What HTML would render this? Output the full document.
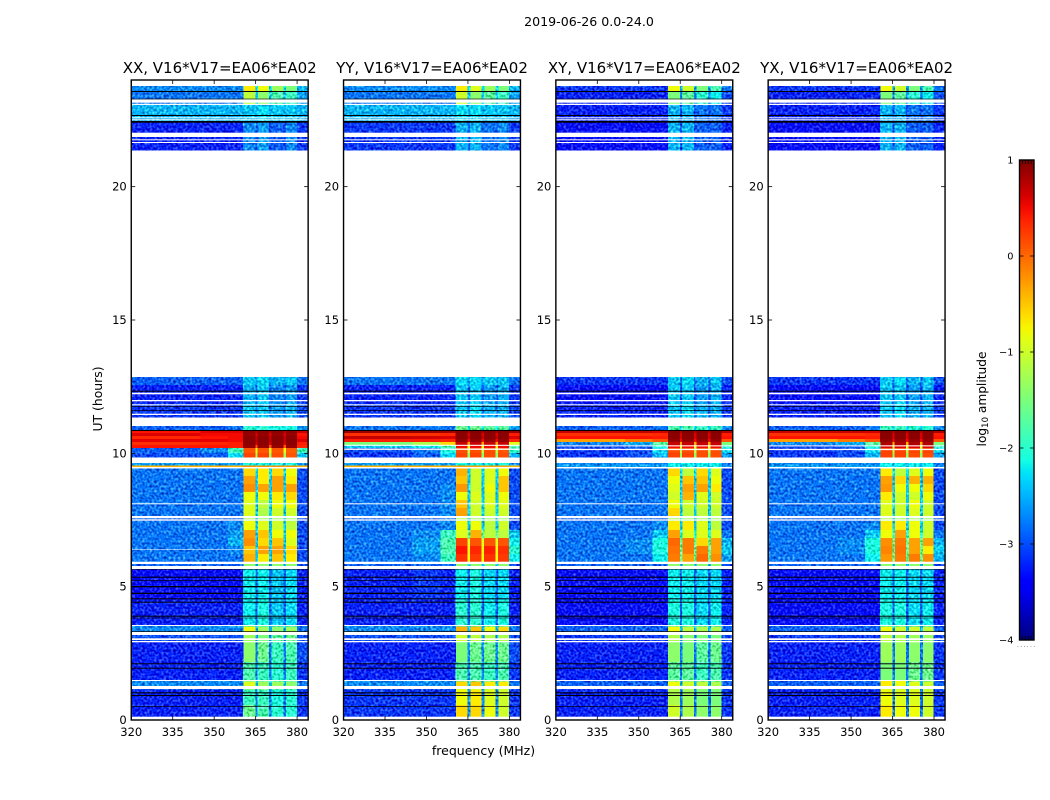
<!DOCTYPE html>
<html>
<head>
<meta charset="utf-8">
<title>2019-06-26 amplitude spectrograms</title>
<style>
html,body{margin:0;padding:0;background:#fff;width:1050px;height:800px;overflow:hidden}
svg{display:block}
text{font-family:"DejaVu Sans","Liberation Sans",sans-serif;fill:#000}
</style>
</head>
<body>
<svg id="chart" xmlns="http://www.w3.org/2000/svg" width="1050" height="800" viewBox="0 0 1050 800">
<defs>
<filter id="grain" x="0" y="0" width="100%" height="100%" color-interpolation-filters="sRGB">
<feTurbulence type="fractalNoise" baseFrequency="0.42" numOctaves="1" seed="7" result="n"/>
<feColorMatrix in="n" type="matrix" values="1 0 0 0 0 1 0 0 0 0 1 0 0 0 0 0 0 0 0 1" result="gray"/>
<feComposite in="SourceGraphic" in2="gray" operator="arithmetic" k1="0" k2="1" k3="1.1" k4="-0.55" result="mix"/>
<feComposite in="mix" in2="SourceAlpha" operator="in"/>
</filter>
<linearGradient id="jet-gradient" x1="0" y1="1" x2="0" y2="0"></linearGradient>
</defs>
<text x="589" y="26" text-anchor="middle" font-size="12.6">2019-06-26 0.0-24.0</text>
<text x="483.5" y="755" text-anchor="middle" font-size="12.5">frequency (MHz)</text>
<text transform="translate(102,399) rotate(-90)" text-anchor="middle" font-size="12.4">UT (hours)</text>
<text transform="translate(986,399) rotate(-90)" text-anchor="middle" font-size="12.2">log<tspan font-size="8.5" dy="2">10</tspan><tspan dy="-2"> amplitude</tspan></text>
</svg>
<script>
// Chart data: axis ticks
const panelTitles = ["XX, V16*V17=EA06*EA02", "YY, V16*V17=EA06*EA02", "XY, V16*V17=EA06*EA02", "YX, V16*V17=EA06*EA02"];
const freqTicks = [320, 335, 350, 365, 380];
const hourTicks = [0, 5, 10, 15, 20];
const colorTicks = [1, 0, -1, -2, -3, -4];
const colorTickLabels = ["1", "0", "\u22121", "\u22122", "\u22123", "\u22124"];

// Frequency bin edges (MHz): background, four receiver bands with notches, background
const freqEdges = [320, 345, 355, 360.5, 364.9, 365.7, 369.9, 370.8, 375, 375.9, 379.9, 384];

// UT hour bin edges, descending
const hourEdges = [24, 23.775, 23.55, 23.063, 22.425, 21.375, 12.863, 12.563, 11.888, 11.363, 11.025, 10.875, 10.763, 10.65, 10.538, 10.425, 10.313, 10.2, 10.013, 9.863, 9.638, 9.563, 9.488, 9.15, 8.85, 8.55, 8.25, 7.95, 7.65, 7.463, 7.125, 6.825, 6.525, 6.225, 5.925, 5.663, 4.5, 3.525, 3.3, 2.925, 2.175, 1.463, 1.275, 1.125, 0.563, 0];

// Flagged (blank) and zero-amplitude time intervals, [from, to] in hours
const blankIntervals = [[23.276,23.149],[23.111,23.063],[22.601,22.564],[22.526,22.489],[22.024,21.863],[21.776,21.739],[21.675,21.638],[12.274,12.214],[12.0,11.951],[11.839,11.801],[11.486,11.438],[9.488,9.431],[8.126,8.089],[7.65,7.564],[7.526,7.474],[5.936,5.85],[5.775,5.663],[3.563,3.525],[3.311,3.188],[3.064,3.0],[2.963,2.914],[1.5,1.463],[1.275,1.163],[0.124,0]];
const zeroIntervals = [[23.588,23.55],[23.299,23.276],[22.688,22.65],[22.463,22.399],[12.349,12.311],[11.775,11.749],[11.625,11.599],[10.875,10.838],[5.644,5.625],[5.374,5.336],[5.25,5.224],[5.025,4.976],[4.774,4.725],[4.564,4.526],[4.436,4.399],[3.911,3.874],[3.836,3.814],[3.326,3.3],[2.126,2.089],[1.961,1.924],[1.039,1.001],[0.938,0.9],[0.525,0.499]];
const xxExtraBlanks = [[6.4,6.38]];
const yyExtraBlanks = [[10.32,10.28],[10.18,10.13]];
const xyExtraBlanks = [[10.3,10.26],[10.17,10.12]];
const yxExtraBlanks = [[10.3,10.26],[10.17,10.12]];

// log10 amplitude per time row, per frequency column
const xxValues = [
null,
[-2.7,-2.7,-2.7,-.7,-2.3,-.8,-2.3,-1.3,-2.3,-1.5,-2.5],
[-2.8,-2.8,-2.8,-1.1,-2.4,-1.4,-2.4,-1.8,-2.4,-1.9,-2.6],
[-2.5,-2.5,-2.5,-2.4,-2.5,-2.3,-2.5,-2.4,-2.5,-2.4,-2.5],
[-3.2,-3.2,-3.2,-2.7,-3,-2.6,-3,-2.9,-3,-2.7,-3.1],
null,
[-2.9,-2.9,-2.9,-2.4,-2.6,-2.3,-2.6,-2.5,-2.6,-2.4,-2.8],
[-3.2,-3.2,-3.2,-2.5,-2.9,-2.4,-2.9,-2.7,-2.9,-2.6,-3.1],
[-3.1,-3.1,-3.1,-2.4,-2.8,-2.4,-2.8,-2.6,-2.8,-2.5,-3],
null,
[-2.9,-2.9,-2.8,-2,-2.2,-2,-2.2,-2.1,-2.2,-2.1,-2.6],
[.45,.6,.6,.95,.8,.95,.8,.95,.8,.95,.7],
[.6,.5,.5,.9,.6,.9,.6,.9,.6,.9,.45],
[.35,.45,.5,.95,.7,.95,.7,.95,.7,.95,.5],
[.55,.55,.5,.95,.7,.95,.7,.95,.7,.95,.6],
[.3,.35,.4,.95,.6,.95,.6,.95,.6,.95,.4],
[.45,.45,.4,.9,.1,.9,.1,.9,.1,.9,.35],
[-2.9,-2.7,-1.9,.1,-.9,.1,-.9,.1,-.9,.05,-1.9],
[-3,-2.9,-2.3,.2,-1.3,.2,-1.3,.15,-1.3,.1,-2.4],
null,
[-2.6,-2.6,-2.6,-2.1,-2.5,-2.1,-2.5,-2.1,-2.5,-2.1,-2.7],
[-.4,-.4,-.4,-.2,-.4,-.2,-.4,-.2,-.4,-.2,-.4],
[-2.8,-2.8,-2.8,-.6,-2.3,-.7,-2.3,-.6,-2.3,-.8,-3],
[-2.8,-2.8,-2.8,-.3,-2.4,-.7,-2.4,-.3,-2.4,-.7,-3],
[-2.8,-2.8,-2.8,-.2,-2.4,-.3,-2.4,-.3,-2.4,-.3,-3],
[-2.8,-2.8,-2.8,-.8,-2.4,-.8,-2.4,-.7,-2.4,-.6,-3],
[-2.8,-2.8,-2.8,-.9,-2.4,-1.1,-2.4,-.8,-2.4,-.8,-3],
[-2.8,-2.8,-2.8,-.9,-2.4,-1.2,-2.4,-1,-2.4,-1,-3],
[-2.9,-2.9,-2.9,-1.2,-2.5,-1.3,-2.5,-1.3,-2.5,-1.3,-3],
[-2.8,-2.8,-2.7,-.8,-2.4,-.9,-2.4,-1,-2.4,-1.1,-3],
[-2.8,-2.8,-2.6,-.3,-2.4,-.5,-2.4,-.8,-2.4,-.8,-3],
[-2.8,-2.8,-2.5,-.2,-2.4,-.6,-2.4,-.5,-2.4,-.9,-3],
[-2.8,-2.8,-2.7,-.5,-2.4,-.3,-2.4,-.3,-2.4,-.6,-3],
[-2.8,-2.8,-2.8,-.4,-2.4,-.7,-2.4,-.5,-2.4,-.7,-3],
[-2.9,-2.9,-2.9,-1.4,-2.5,-1.4,-2.5,-1.4,-2.5,-1.4,-3],
[-3.3,-3.3,-3.3,-2.2,-2.9,-2.2,-2.9,-2.4,-2.9,-2.3,-3.2],
[-3.2,-3.2,-3.2,-2.2,-2.9,-2.1,-2.9,-2.4,-2.9,-2.3,-3.2],
[-2.7,-2.7,-2.7,-.8,-2.5,-1.3,-2.5,-1.4,-2.5,-1.3,-2.8],
[-3,-3,-3,-1.3,-2.7,-1.5,-2.7,-1.7,-2.7,-1.6,-3],
[-3.2,-3.2,-3.2,-1.4,-2.8,-1.6,-2.8,-1.9,-2.8,-1.8,-3],
[-3.2,-3.2,-3.2,-1.8,-2.8,-1.9,-2.8,-2,-2.8,-1.9,-3.1],
[-2.7,-2.7,-2.7,-.9,-2.4,-1.3,-2.4,-1.3,-2.4,-1.4,-2.8],
[-3,-3,-3,-1.5,-2.7,-1.6,-2.7,-1.8,-2.7,-1.8,-3],
[-3.2,-3.2,-3.2,-1.9,-2.8,-1.9,-2.8,-2.1,-2.8,-2,-3.1],
[-3.2,-3.2,-3.2,-1.6,-2.8,-1.8,-2.8,-2,-2.8,-2,-3.1]
];
const yyValues = [
null,
[-2.7,-2.7,-2.7,-.7,-2.3,-.9,-2.3,-1.3,-2.3,-1.5,-2.5],
[-2.8,-2.8,-2.8,-1,-2.4,-1.4,-2.4,-1.7,-2.4,-1.9,-2.6],
[-2.5,-2.5,-2.5,-2.3,-2.5,-2.3,-2.5,-2.4,-2.5,-2.4,-2.5],
[-3.1,-3.1,-3.1,-2.5,-2.9,-2.5,-2.9,-2.8,-2.9,-2.7,-3.1],
null,
[-2.8,-2.8,-2.8,-2.3,-2.6,-2.3,-2.6,-2.4,-2.6,-2.4,-2.8],
[-3.2,-3.2,-3.2,-2.4,-2.9,-2.4,-2.9,-2.6,-2.9,-2.5,-3.1],
[-3.1,-3.1,-3.1,-2.4,-2.8,-2.3,-2.8,-2.5,-2.8,-2.5,-3],
null,
[-2.8,-2.8,-2.8,-1.6,-2.2,-1.6,-2.2,-1.7,-2.2,-1.7,-2.6],
[.9,.9,.85,.98,.85,.98,.85,.98,.85,.98,.9],
[.3,.3,.35,.95,.6,.95,.6,.95,.6,.95,.4],
[.7,.65,.6,.95,.7,.95,.7,.95,.7,.95,.6],
[.4,.4,.35,.9,.5,.9,.5,.9,.5,.9,.35],
[-1.5,-1.2,-.6,.7,-.3,.7,-.3,.7,-.3,.7,-.9],
[-2.4,-2.2,-1.8,.5,-.8,.5,-.8,.5,-.8,.5,-1.8],
[-3,-2.8,-2.1,.15,-1.1,.15,-1.1,.15,-1.1,.1,-2],
[-3.1,-2.9,-2.3,.2,-1.4,.2,-1.4,.15,-1.4,.15,-2.5],
null,
[-2.6,-2.6,-2.6,-2.1,-2.5,-2.1,-2.5,-2.1,-2.5,-2.1,-2.7],
[-.4,-.4,-.4,-.3,-.4,-.3,-.4,-.3,-.4,-.3,-.4],
[-2.8,-2.8,-2.8,-.4,-2.3,-1,-2.3,-.9,-2.3,-.8,-3],
[-2.8,-2.8,-2.8,-.5,-2.4,-1,-2.4,-.9,-2.4,-.5,-3],
[-2.8,-2.8,-2.7,-.25,-2.4,-1,-2.4,-.8,-2.4,-.5,-3],
[-2.8,-2.8,-2.7,-.8,-2.4,-.9,-2.4,-.9,-2.4,-.8,-3],
[-2.8,-2.8,-2.7,-.5,-2.4,-1,-2.4,-.9,-2.4,-.9,-3],
[-2.8,-2.8,-2.7,-.3,-2.3,-1,-2.3,-1,-2.3,-1,-3],
[-2.9,-2.9,-2.8,-1.2,-2.5,-1.3,-2.5,-1.3,-2.5,-1.3,-3],
[-2.8,-2.8,-2.7,-.8,-2.4,-.8,-2.4,-1.1,-2.4,-1,-3],
[-2.8,-2.7,-1.9,-.9,-1.6,-.4,-1.6,-1.1,-1.6,-1.1,-2.4],
[-2.8,-2.6,-1.8,.2,-.9,.1,-.9,.1,-.9,.1,-2.2],
[-2.8,-2.6,-1.8,.45,-.8,.35,-.8,.4,-.8,.3,-2],
[-2.8,-2.7,-1.9,.3,-.8,.25,-.8,.3,-.8,.25,-2.2],
[-2.9,-2.9,-2.9,-1.4,-2.5,-1.4,-2.5,-1.4,-2.5,-1.4,-3],
[-3.2,-3.1,-3.2,-2.2,-2.9,-2.1,-2.9,-2.3,-2.9,-2.3,-3.2],
[-3.2,-3.2,-3.2,-2,-2.9,-2,-2.9,-2.2,-2.9,-2.1,-3.2],
[-2.7,-2.7,-2.7,-.4,-2.5,-.5,-2.5,-.8,-2.5,-.6,-2.8],
[-3,-3,-3,-1,-2.6,-1.1,-2.6,-1.2,-2.6,-1.2,-3],
[-3.2,-3.2,-3.2,-1.5,-2.7,-1.6,-2.7,-1.6,-2.7,-1.6,-3],
[-3.2,-3.2,-3.2,-1.8,-2.7,-1.8,-2.7,-1.9,-2.7,-1.8,-3.1],
[-2.7,-2.7,-2.7,-.6,-2.4,-.5,-2.4,-.7,-2.4,-.7,-2.8],
[-3,-3,-3,-.9,-2.6,-.9,-2.6,-1,-2.6,-1,-3],
[-3.1,-3.1,-3.1,-.8,-2.7,-.7,-2.7,-.9,-2.7,-1,-3.1],
[-3.1,-3.1,-3.1,-.6,-2.7,-.6,-2.7,-.8,-2.7,-1,-3.1]
];
const xyValues = [
null,
[-3.1,-3.1,-3.1,-.8,-2.6,-1,-2.6,-1.5,-2.6,-1.8,-2.8],
[-3.2,-3.2,-3.2,-1.5,-2.7,-1.7,-2.7,-2,-2.7,-2.2,-3],
[-3.2,-3.2,-3.2,-2.5,-3,-2.5,-3,-2.8,-3,-2.8,-3.1],
[-3.3,-3.3,-3.3,-2.5,-3,-2.5,-3,-2.9,-3,-2.9,-3.2],
null,
[-3.1,-3.1,-3.1,-2.4,-2.8,-2.3,-2.8,-2.5,-2.8,-2.4,-3],
[-3.3,-3.3,-3.3,-2.4,-3,-2.4,-3,-2.6,-3,-2.5,-3.2],
[-3.2,-3.2,-3.2,-2.4,-2.9,-2.3,-2.9,-2.5,-2.9,-2.5,-3.1],
null,
[-2.9,-2.9,-2.8,-1.8,-2.3,-1.8,-2.3,-1.9,-2.3,-1.9,-2.7],
[.7,.7,.65,.98,.8,.98,.8,.98,.8,.98,.8],
[.3,.3,.35,.95,.6,.95,.6,.95,.6,.95,.4],
[.45,.45,.4,.95,.6,.95,.6,.95,.6,.95,.45],
[-.3,-.1,.1,.9,.5,.9,.5,.9,.5,.9,.1],
[-2.7,-2.5,-1.7,.7,-.4,.7,-.4,.7,-.4,.7,-1.5],
[-3,-2.9,-2.1,.5,-.9,.5,-.9,.5,-.9,.5,-2],
[-3.1,-3,-2.3,.15,-1.1,.15,-1.1,.15,-1.1,.15,-2.3],
[-3.1,-3,-2.5,.2,-1.4,.2,-1.4,.15,-1.4,.15,-2.6],
null,
[-2.7,-2.7,-2.7,-2.2,-2.5,-2.2,-2.5,-2.2,-2.5,-2.2,-2.8],
[-2.6,-2.6,-2.6,-2.2,-2.5,-2.2,-2.5,-2.2,-2.5,-2.2,-2.7],
[-2.8,-2.8,-2.8,-.6,-2.3,-1.1,-2.3,-.6,-2.3,-.9,-3],
[-2.8,-2.8,-2.8,-.8,-2.4,-.5,-2.4,-.5,-2.4,-.8,-3],
[-2.8,-2.8,-2.8,-.9,-2.4,-.3,-2.4,-.3,-2.4,-.7,-3],
[-2.8,-2.8,-2.8,-1,-2.4,-.4,-2.4,-.9,-2.4,-1,-3],
[-2.8,-2.8,-2.8,-.8,-2.4,-1,-2.4,-1,-2.4,-1,-3],
[-2.8,-2.8,-2.8,-.6,-2.4,-1.1,-2.4,-1.1,-2.4,-1.1,-3],
[-2.9,-2.9,-2.9,-1.2,-2.5,-1.3,-2.5,-1.3,-2.5,-1.3,-3],
[-2.8,-2.8,-2.7,-.7,-2.4,-.7,-2.4,-.9,-2.4,-1.1,-3],
[-2.8,-2.8,-2.4,-.3,-2,-.9,-2,-.9,-2,-.9,-2.8],
[-2.8,-2.7,-2.1,0,-1.6,-.1,-1.6,-.6,-1.6,-.3,-2.5],
[-2.8,-2.7,-2.1,-.05,-1.6,-.1,-1.6,-.1,-1.6,-.3,-2.4],
[-2.8,-2.8,-2.2,-.1,-1.6,-.3,-1.6,0,-1.6,-.2,-2.6],
[-2.9,-2.9,-2.9,-1.4,-2.5,-1.4,-2.5,-1.4,-2.5,-1.4,-3],
[-3.3,-3.3,-3.3,-2.2,-2.9,-2.2,-2.9,-2.3,-2.9,-2.3,-3.2],
[-3.3,-3.3,-3.3,-2.1,-2.9,-2.1,-2.9,-2.3,-2.9,-2.2,-3.2],
[-2.9,-2.9,-2.9,-.8,-2.5,-1.1,-2.5,-1.2,-2.5,-1.2,-2.9],
[-3.1,-3.1,-3.1,-1.2,-2.7,-1.4,-2.7,-1.5,-2.7,-1.5,-3],
[-3.2,-3.2,-3.2,-1.4,-2.8,-1.5,-2.8,-1.7,-2.8,-1.6,-3.1],
[-3.2,-3.2,-3.2,-1.7,-2.8,-1.7,-2.8,-1.9,-2.8,-1.8,-3.1],
[-2.9,-2.9,-2.9,-.8,-2.5,-1,-2.5,-1.1,-2.5,-1.2,-2.9],
[-3.1,-3.1,-3.1,-1.1,-2.7,-1.2,-2.7,-1.4,-2.7,-1.4,-3],
[-3.2,-3.2,-3.2,-1.2,-2.8,-1.3,-2.8,-1.5,-2.8,-1.5,-3.1],
[-3.2,-3.2,-3.2,-1,-2.8,-1.2,-2.8,-1.4,-2.8,-1.4,-3.1]
];
const yxValues = [
null,
[-3.1,-3.1,-3.1,-.8,-2.6,-1,-2.6,-1.5,-2.6,-1.8,-2.8],
[-3.2,-3.2,-3.2,-1.5,-2.7,-1.7,-2.7,-2,-2.7,-2.2,-3],
[-3.2,-3.2,-3.2,-2.5,-3,-2.5,-3,-2.8,-3,-2.8,-3.1],
[-3.3,-3.3,-3.3,-2.5,-3,-2.5,-3,-2.9,-3,-2.9,-3.2],
null,
[-3.1,-3.1,-3.1,-2.4,-2.8,-2.3,-2.8,-2.5,-2.8,-2.4,-3],
[-3.3,-3.3,-3.3,-2.4,-3,-2.4,-3,-2.6,-3,-2.5,-3.2],
[-3.2,-3.2,-3.2,-2.4,-2.9,-2.3,-2.9,-2.5,-2.9,-2.5,-3.1],
null,
[-2.9,-2.9,-2.8,-1.9,-2.3,-1.9,-2.3,-2,-2.3,-2,-2.7],
[.7,.7,.65,.98,.8,.98,.8,.98,.8,.98,.8],
[.3,.3,.35,.95,.6,.95,.6,.95,.6,.95,.4],
[.45,.45,.4,.95,.6,.95,.6,.95,.6,.95,.45],
[-.3,-.1,.1,.9,.5,.9,.5,.9,.5,.9,.1],
[-2.7,-2.5,-1.7,.8,-.4,.8,-.4,.8,-.4,.8,-1.5],
[-3,-2.9,-2.1,.6,-.9,.6,-.9,.6,-.9,.6,-2],
[-3.1,-3,-2.3,.2,-1.1,.2,-1.1,.2,-1.1,.2,-2.3],
[-3.1,-3,-2.5,.2,-1.4,.2,-1.4,.15,-1.4,.15,-2.6],
null,
[-2.7,-2.7,-2.7,-2.2,-2.5,-2.2,-2.5,-2.2,-2.5,-2.2,-2.8],
[-2.6,-2.6,-2.6,-2.2,-2.5,-2.2,-2.5,-2.2,-2.5,-2.2,-2.7],
[-2.8,-2.8,-2.8,-.7,-2.3,-1.1,-2.3,-.9,-2.3,-.8,-3],
[-2.8,-2.8,-2.8,-.3,-2.4,-.6,-2.4,-.4,-2.4,-.4,-3],
[-2.8,-2.8,-2.8,-.25,-2.4,-.8,-2.4,-.8,-2.4,-.6,-3],
[-2.8,-2.8,-2.8,-.7,-2.4,-1,-2.4,-1,-2.4,-.8,-3],
[-2.8,-2.8,-2.8,-.9,-2.4,-1,-2.4,-.8,-2.4,-1,-3],
[-2.8,-2.8,-2.8,-.9,-2.4,-1,-2.4,-.9,-2.4,-1,-3],
[-2.9,-2.9,-2.9,-1.2,-2.5,-1.3,-2.5,-1.3,-2.5,-1.3,-3],
[-2.8,-2.8,-2.7,-.7,-2.4,-.7,-2.4,-.8,-2.4,-1,-3],
[-2.8,-2.8,-2.4,-.8,-2,-.3,-2,-.8,-2,-1,-2.8],
[-2.8,-2.7,-2.1,-.2,-1.6,-.1,-1.6,-.3,-1.6,-.3,-2.5],
[-2.8,-2.7,-2.1,-.15,-1.6,-.05,-1.6,-.3,-1.6,-.7,-2.4],
[-2.8,-2.8,-2.2,-.25,-1.6,-.1,-1.6,-.1,-1.6,-.2,-2.5],
[-2.9,-2.9,-2.9,-1.4,-2.5,-1.4,-2.5,-1.4,-2.5,-1.4,-3],
[-3.3,-3.3,-3.3,-2.2,-2.9,-2.2,-2.9,-2.3,-2.9,-2.3,-3.2],
[-3.3,-3.3,-3.3,-2.1,-2.9,-2.1,-2.9,-2.3,-2.9,-2.2,-3.2],
[-2.9,-2.9,-2.9,-.8,-2.5,-1,-2.5,-1,-2.5,-1.1,-2.9],
[-3.1,-3.1,-3.1,-1.1,-2.7,-1.2,-2.7,-1.3,-2.7,-1.3,-3],
[-3.2,-3.2,-3.2,-1.3,-2.8,-1.3,-2.8,-1.4,-2.8,-1.4,-3.1],
[-3.2,-3.2,-3.2,-1.5,-2.8,-1.5,-2.8,-1.6,-2.8,-1.6,-3.1],
[-2.9,-2.9,-2.9,-.7,-2.5,-.8,-2.5,-.9,-2.5,-1,-2.9],
[-3.1,-3.1,-3.1,-.9,-2.7,-1,-2.7,-1,-2.7,-1.1,-3],
[-3.2,-3.2,-3.2,-.8,-2.8,-.9,-2.8,-.9,-2.8,-1,-3.1],
[-3.2,-3.2,-3.2,-.7,-2.8,-.8,-2.8,-.8,-2.8,-1,-3.1]
];

const panelValues = [xxValues, yyValues, xyValues, yxValues];
const panelExtraBlanks = [xxExtraBlanks, yyExtraBlanks, xyExtraBlanks, yxExtraBlanks];
const panelKeys = ["xx", "yy", "xy", "yx"];

const NS = "http://www.w3.org/2000/svg";
const svg = document.getElementById("chart");
const AXIS_TOP = 80, AXIS_BOTTOM = 720, AXIS_WIDTH = 176.9, PANEL_STEP = 212.3, FIRST_LEFT = 131.25;
const FREQ_MIN = 320, FREQ_MAX = 384, HOUR_MAX = 24;
const CB_LEFT = 1019.5, CB_RIGHT = 1034, CB_TOP = 160, CB_BOTTOM = 640, CB_MIN = -4, CB_MAX = 1;
const GRAIN_BELOW = -1.5;

function xScale(left, mhz) { return left + (mhz - FREQ_MIN) / (FREQ_MAX - FREQ_MIN) * AXIS_WIDTH; }
function yScale(hour) { return AXIS_BOTTOM - hour / HOUR_MAX * (AXIS_BOTTOM - AXIS_TOP); }
function cbScale(v) { return CB_BOTTOM - (v - CB_MIN) / (CB_MAX - CB_MIN) * (CB_BOTTOM - CB_TOP); }

function lerpStops(f, stops) {
  for (let i = 1; i < stops.length; i++) {
    if (f <= stops[i][0]) {
      const a = stops[i - 1], b = stops[i];
      return a[1] + (f - a[0]) / (b[0] - a[0]) * (b[1] - a[1]);
    }
  }
  return stops[stops.length - 1][1];
}
function jetFrac(f) {
  f = Math.max(0, Math.min(1, f));
  const r = lerpStops(f, [[0,0],[.35,0],[.66,1],[.89,1],[1,.5]]);
  const g = lerpStops(f, [[0,0],[.125,0],[.375,1],[.64,1],[.91,0],[1,0]]);
  const b = lerpStops(f, [[0,.5],[.11,1],[.34,1],[.65,0],[1,0]]);
  return "rgb(" + Math.round(r * 255) + "," + Math.round(g * 255) + "," + Math.round(b * 255) + ")";
}
function jet(v) { return jetFrac((v - CB_MIN) / (CB_MAX - CB_MIN)); }

function make(tag, attrs, parent) {
  const el = document.createElementNS(NS, tag);
  for (const k in attrs) el.setAttribute(k, attrs[k]);
  (parent || svg).appendChild(el);
  return el;
}

panelValues.forEach(function (values, p) {
  const left = FIRST_LEFT + p * PANEL_STEP;
  const right = left + AXIS_WIDTH;
  const key = panelKeys[p];

  const panel = make("g", {});
  
  

  const smoothCells = make("g", { "shape-rendering": "crispEdges" }, panel);
  
  
  const noisyCells = make("g", { filter: "url(#grain)", "shape-rendering": "crispEdges" }, panel);
  
  

  values.forEach(function (row, r) {
    if (!row) return;
    const y0 = yScale(hourEdges[r]), y1 = yScale(hourEdges[r + 1]);
    row.forEach(function (v, c) {
      const x0 = xScale(left, freqEdges[c]), x1 = xScale(left, freqEdges[c + 1]);
      const cell = make("rect", { x: x0, y: y0, width: x1 - x0 + 0.4, height: y1 - y0 + 0.4, fill: jet(v) }, v < GRAIN_BELOW ? noisyCells : smoothCells);
      
      
    });
  });

  blankIntervals.concat(panelExtraBlanks[p]).forEach(function (iv) {
    const gap = make("rect", { x: left, y: yScale(iv[0]), width: AXIS_WIDTH, height: yScale(iv[1]) - yScale(iv[0]), fill: "#fff" }, panel);
    
    
  });
  zeroIntervals.forEach(function (iv) {
    const line = make("rect", { x: left, y: yScale(iv[0]), width: AXIS_WIDTH, height: yScale(iv[1]) - yScale(iv[0]), fill: "#000" }, panel);
    
    
  });

  const frame = make("rect", { x: left, y: AXIS_TOP, width: AXIS_WIDTH, height: AXIS_BOTTOM - AXIS_TOP, fill: "none", stroke: "#000", "stroke-width": 1.4 }, panel);
  
  

  freqTicks.forEach(function (f) {
    const x = xScale(left, f);
    const tb = make("line", { x1: x, x2: x, y1: AXIS_BOTTOM, y2: AXIS_BOTTOM - 4, stroke: "#000", "stroke-width": 0.8 }, panel);
    
    
    const tt = make("line", { x1: x, x2: x, y1: AXIS_TOP, y2: AXIS_TOP + 4, stroke: "#000", "stroke-width": 0.8 }, panel);
    
    
    const lab = make("text", { x: x, y: AXIS_BOTTOM + 16, "text-anchor": "middle", "font-size": 11.5 }, panel);
    
    
    lab.textContent = f;
  });

  hourTicks.forEach(function (h) {
    const y = yScale(h);
    const tl = make("line", { x1: left, x2: left + 4, y1: y, y2: y, stroke: "#000", "stroke-width": 0.8 }, panel);
    
    
    const tr = make("line", { x1: right, x2: right - 4, y1: y, y2: y, stroke: "#000", "stroke-width": 0.8 }, panel);
    
    
    const lab = make("text", { x: left - 4.5, y: y + 4, "text-anchor": "end", "font-size": 11.5 }, panel);
    
    
    lab.textContent = h;
  });

  const title = make("text", { x: left + AXIS_WIDTH / 2, y: 73, "text-anchor": "middle", "font-size": 15 }, panel);
  
  
  title.textContent = panelTitles[p];
});

// Colorbar
const gradient = document.getElementById("jet-gradient");
for (let i = 0; i <= 40; i++) {
  make("stop", { offset: (i / 40), "stop-color": jetFrac(i / 40) }, gradient);
}
const colorbar = make("g", {});


const cbRect = make("rect", { x: CB_LEFT, y: CB_TOP, width: CB_RIGHT - CB_LEFT, height: CB_BOTTOM - CB_TOP, fill: "url(#jet-gradient)", stroke: "#000", "stroke-width": 1.4 }, colorbar);


colorTicks.forEach(function (v, i) {
  const y = cbScale(v);
  const t1 = make("line", { x1: CB_LEFT, x2: CB_LEFT + 4, y1: y, y2: y, stroke: "#000", "stroke-width": 0.8 }, colorbar);
  
  
  const t2 = make("line", { x1: CB_RIGHT, x2: CB_RIGHT - 4, y1: y, y2: y, stroke: "#000", "stroke-width": 0.8 }, colorbar);
  
  
  const lab = make("text", { x: 1013.5, y: y + 3.5, "text-anchor": "end", "font-size": 9.8 }, colorbar);
  
  
  lab.textContent = colorTickLabels[i];
});
for (let i = 1; i <= 4; i++) {
  const x = CB_LEFT + i * (CB_RIGHT - CB_LEFT) / 5;
  const t3 = make("line", { x1: x, x2: x, y1: CB_TOP, y2: CB_TOP + 4, stroke: "#000", "stroke-width": 0.8 }, colorbar);
  
  
  const t4 = make("line", { x1: x, x2: x, y1: CB_BOTTOM, y2: CB_BOTTOM - 4, stroke: "#000", "stroke-width": 0.8 }, colorbar);
  
  
}
const dots = make("text", { x: 1017, y: 647, "font-size": 6, "letter-spacing": 1.35, style: "fill:#555" }, colorbar);


dots.textContent = "......";
</script>
</body>
</html>
